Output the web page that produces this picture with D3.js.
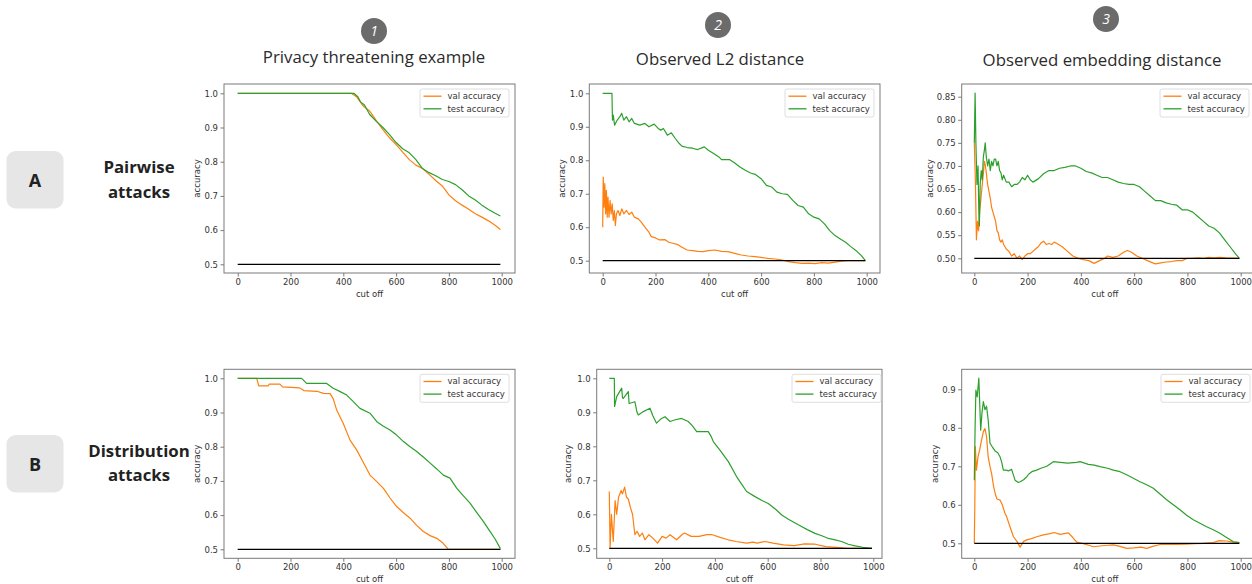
<!DOCTYPE html>
<html>
<head>
<meta charset="utf-8">
<script src="https://cdnjs.cloudflare.com/ajax/libs/d3/7.8.5/d3.min.js"></script>
<style>
body { margin: 0; background: #fff; }
.tick text, .axis-label, .legend text { font-family: "DejaVu Sans", sans-serif; font-size: 8.5px; fill: #333; }
</style>
</head>
<body>
<div id="chart"></div>
<script>
var width = 1252,
    height = 584;

// column headers and row labels
var columnTitles = ["Privacy threatening example", "Observed L2 distance", "Observed embedding distance"];
var columnNumbers = ["1", "2", "3"];
var rowLetters = ["A", "B"];
var rowNames = [["Pairwise", "attacks"], ["Distribution", "attacks"]];
var seriesNames = ["val accuracy", "test accuracy"];
var seriesColors = ["#ff7f0e", "#2ca02c"];
var baseline = 0.5;

var xTicks = [0, 200, 400, 600, 800, 1000];
var yTicksTenths = [0.5, 0.6, 0.7, 0.8, 0.9, 1.0];
var yTicksEmbA = [0.50, 0.55, 0.60, 0.65, 0.70, 0.75, 0.80, 0.85];
var yTicksEmbB = [0.5, 0.6, 0.7, 0.8, 0.9];

// A1 pairwise / privacy threatening example  [cut off, accuracy]
var pairPrivVal = [[0,1.0],[350,1.0],[430,1.0],[450,0.99],[475,0.963],[500,0.948],[525,0.92],[550,0.894],[575,0.87],[600,0.85],[625,0.828],[650,0.806],[675,0.79],[700,0.78],[725,0.763],[750,0.745],[775,0.729],[800,0.703],[825,0.686],[850,0.673],[875,0.661],[900,0.648],[925,0.638],[950,0.627],[975,0.614],[995,0.602]];
var pairPrivTest = [[0,1.0],[440,1.0],[455,0.99],[465,0.975],[480,0.966],[500,0.938],[525,0.918],[550,0.9],[575,0.879],[600,0.856],[625,0.838],[650,0.826],[675,0.806],[700,0.78],[725,0.768],[750,0.759],[775,0.748],[800,0.742],[825,0.733],[850,0.718],[875,0.7],[900,0.688],[925,0.673],[950,0.66],[975,0.649],[995,0.641]];

// A2 pairwise / L2
var pairL2Val = [[0,0.60],[2,0.75],[5,0.66],[8,0.73],[11,0.64],[14,0.71],[17,0.63],[20,0.69],[24,0.63],[28,0.68],[32,0.64],[36,0.67],[40,0.62],[44,0.65],[48,0.605],[52,0.64],[58,0.65],[65,0.635],[72,0.655],[80,0.64],[90,0.65],[100,0.638],[110,0.645],[120,0.63],[135,0.625],[146,0.615],[160,0.6],[175,0.585],[184,0.572],[200,0.568],[215,0.562],[235,0.563],[250,0.555],[265,0.552],[285,0.548],[300,0.54],[320,0.532],[340,0.53],[360,0.528],[380,0.527],[400,0.53],[425,0.532],[450,0.528],[475,0.527],[500,0.522],[525,0.517],[550,0.514],[577,0.512],[600,0.51],[625,0.507],[653,0.505],[680,0.502],[703,0.497],[730,0.494],[754,0.492],[780,0.493],[804,0.491],[830,0.494],[855,0.493],[880,0.496],[905,0.499],[930,0.5],[956,0.5],[995,0.5]];
var pairL2Test = [[0,1.0],[35,1.0],[37,0.92],[40,0.935],[45,0.905],[55,0.92],[65,0.93],[72,0.94],[80,0.92],[90,0.93],[100,0.915],[110,0.925],[120,0.91],[140,0.905],[160,0.91],[175,0.9],[195,0.908],[210,0.895],[220,0.89],[230,0.895],[245,0.875],[260,0.882],[275,0.865],[290,0.85],[300,0.842],[320,0.838],[340,0.836],[360,0.832],[385,0.84],[400,0.83],[420,0.82],[440,0.81],[450,0.802],[480,0.802],[500,0.792],[520,0.78],[540,0.77],[560,0.762],[580,0.757],[600,0.745],[620,0.725],[640,0.72],[660,0.705],[680,0.7],[700,0.698],[720,0.68],[740,0.665],[760,0.66],[780,0.64],[800,0.63],[820,0.625],[840,0.61],[860,0.59],[880,0.575],[900,0.565],[920,0.555],[940,0.542],[960,0.53],[980,0.515],[995,0.5]];

// A3 pairwise / embedding
var pairEmbVal = [[0,0.75],[4,0.67],[8,0.54],[12,0.58],[16,0.56],[20,0.6],[25,0.63],[30,0.66],[35,0.69],[38,0.71],[42,0.70],[46,0.68],[50,0.66],[55,0.645],[60,0.63],[65,0.61],[70,0.6],[75,0.59],[80,0.58],[85,0.56],[90,0.555],[95,0.54],[100,0.535],[105,0.54],[110,0.53],[120,0.52],[130,0.515],[140,0.505],[150,0.51],[160,0.5],[170,0.505],[180,0.497],[190,0.505],[200,0.51],[210,0.51],[220,0.515],[230,0.52],[240,0.525],[250,0.533],[260,0.537],[270,0.53],[280,0.532],[290,0.53],[300,0.535],[310,0.532],[330,0.525],[350,0.515],[370,0.505],[390,0.5],[410,0.497],[430,0.495],[450,0.489],[470,0.495],[490,0.5],[500,0.505],[520,0.502],[540,0.505],[560,0.513],[575,0.517],[590,0.513],[610,0.505],[630,0.5],[650,0.495],[670,0.49],[680,0.488],[700,0.49],[720,0.492],[740,0.493],[760,0.495],[780,0.495],[800,0.5],[820,0.5],[840,0.501],[860,0.5],[880,0.502],[900,0.501],[920,0.502],[945,0.501],[995,0.5]];
var pairEmbTest = [[0,0.75],[3,0.858],[6,0.75],[10,0.66],[14,0.70],[17,0.60],[19,0.57],[22,0.66],[26,0.69],[30,0.67],[34,0.72],[38,0.735],[41,0.75],[45,0.72],[50,0.70],[55,0.715],[60,0.69],[65,0.71],[70,0.70],[75,0.715],[80,0.715],[85,0.70],[90,0.71],[95,0.69],[100,0.685],[105,0.67],[110,0.68],[120,0.665],[130,0.665],[140,0.655],[150,0.66],[160,0.66],[170,0.665],[180,0.675],[190,0.67],[200,0.68],[210,0.67],[220,0.665],[240,0.672],[260,0.683],[280,0.69],[300,0.69],[320,0.695],[340,0.697],[360,0.70],[380,0.70],[400,0.695],[420,0.688],[440,0.685],[460,0.68],[480,0.675],[500,0.675],[520,0.67],[540,0.665],[560,0.662],[580,0.66],[600,0.66],[620,0.655],[640,0.645],[660,0.635],[680,0.625],[700,0.625],[720,0.62],[740,0.617],[760,0.615],[780,0.605],[800,0.605],[820,0.6],[840,0.59],[860,0.58],[880,0.57],[900,0.565],[920,0.555],[940,0.54],[960,0.525],[980,0.51],[995,0.5]];

// B1 distribution / privacy threatening example
var distPrivVal = [[0,1.0],[72,1.0],[80,0.978],[115,0.978],[120,0.983],[160,0.983],[170,0.975],[235,0.972],[250,0.964],[300,0.962],[325,0.956],[350,0.955],[362,0.94],[375,0.907],[400,0.868],[425,0.82],[451,0.79],[475,0.755],[501,0.717],[527,0.698],[552,0.678],[577,0.65],[602,0.625],[628,0.607],[653,0.591],[678,0.57],[703,0.552],[729,0.54],[754,0.532],[775,0.52],[798,0.5],[995,0.5]];
var distPrivTest = [[0,1.0],[242,1.0],[261,0.985],[337,0.985],[362,0.971],[388,0.961],[413,0.951],[438,0.932],[463,0.912],[501,0.898],[527,0.873],[552,0.86],[577,0.849],[602,0.834],[628,0.815],[653,0.8],[678,0.786],[703,0.77],[729,0.752],[754,0.735],[779,0.717],[804,0.708],[830,0.678],[855,0.656],[880,0.635],[905,0.608],[931,0.581],[955,0.553],[975,0.53],[995,0.502]];

// B2 distribution / L2
var distL2Val = [[0,0.667],[3,0.5],[8,0.6],[15,0.52],[22,0.64],[28,0.6],[35,0.65],[45,0.67],[50,0.66],[58,0.68],[65,0.65],[72,0.645],[80,0.62],[88,0.6],[97,0.54],[105,0.55],[115,0.535],[125,0.545],[135,0.525],[150,0.54],[165,0.53],[183,0.515],[200,0.535],[215,0.53],[230,0.54],[255,0.525],[275,0.54],[285,0.545],[310,0.535],[340,0.535],[370,0.54],[390,0.54],[420,0.532],[450,0.525],[480,0.52],[520,0.515],[545,0.518],[560,0.515],[590,0.52],[620,0.515],[660,0.51],[700,0.508],[740,0.513],[780,0.512],[820,0.505],[860,0.503],[900,0.5],[995,0.5]];
var distL2Test = [[0,1.0],[19,1.0],[20,0.917],[28,0.946],[47,0.971],[50,0.942],[53,0.941],[72,0.961],[75,0.926],[97,0.931],[105,0.9],[110,0.892],[129,0.902],[154,0.912],[165,0.89],[179,0.868],[195,0.88],[211,0.887],[230,0.873],[250,0.878],[274,0.882],[299,0.873],[315,0.86],[331,0.843],[375,0.843],[385,0.83],[394,0.814],[419,0.789],[451,0.755],[482,0.711],[500,0.69],[520,0.667],[552,0.652],[580,0.64],[602,0.632],[630,0.615],[653,0.598],[680,0.585],[716,0.569],[750,0.555],[779,0.544],[805,0.537],[830,0.529],[855,0.525],[880,0.52],[905,0.512],[931,0.507],[960,0.503],[995,0.5]];

// B3 distribution / embedding
var distEmbVal = [[0,0.5],[2,0.6],[4,0.751],[8,0.69],[14,0.725],[20,0.742],[26,0.764],[34,0.79],[40,0.798],[46,0.777],[52,0.725],[59,0.699],[65,0.681],[72,0.65],[78,0.63],[85,0.615],[97,0.612],[105,0.6],[115,0.578],[121,0.57],[134,0.543],[147,0.517],[160,0.505],[172,0.49],[185,0.505],[197,0.509],[215,0.512],[234,0.517],[260,0.522],[284,0.525],[300,0.528],[322,0.523],[353,0.527],[370,0.515],[384,0.503],[409,0.499],[430,0.495],[447,0.491],[470,0.493],[500,0.495],[522,0.496],[547,0.492],[572,0.487],[600,0.488],[625,0.49],[647,0.487],[670,0.492],[697,0.497],[730,0.498],[760,0.497],[797,0.498],[830,0.499],[860,0.5],[897,0.502],[920,0.507],[947,0.506],[970,0.503],[995,0.502]];
var distEmbTest = [[0,0.664],[3,0.8],[6,0.898],[11,0.88],[17,0.929],[21,0.85],[24,0.794],[29,0.84],[34,0.868],[40,0.847],[46,0.856],[52,0.821],[59,0.76],[68,0.75],[78,0.74],[88,0.735],[97,0.724],[103,0.71],[109,0.69],[120,0.69],[128,0.688],[140,0.692],[153,0.664],[165,0.658],[172,0.66],[185,0.665],[197,0.673],[205,0.68],[216,0.686],[234,0.69],[250,0.695],[272,0.70],[297,0.712],[322,0.71],[350,0.708],[384,0.71],[397,0.712],[428,0.705],[450,0.703],[472,0.699],[500,0.695],[522,0.69],[547,0.686],[572,0.678],[597,0.669],[622,0.66],[647,0.652],[672,0.643],[697,0.628],[722,0.613],[747,0.6],[772,0.587],[797,0.573],[822,0.561],[847,0.552],[872,0.543],[897,0.535],[922,0.526],[947,0.515],[973,0.504],[995,0.502]];

// panel layout: frame = [left, top, right, bottom], x/y anchors map two data values to pixels
var panels = [
  {frame:[224,84,515,273], xa:[0,237.7], xb:[1000,501.7], ya:[1.0,93.3], yb:[0.5,264.3], yTicks:yTicksTenths, fmt:".1f", legendRight:509, ylabX:197, val:pairPrivVal, test:pairPrivTest},
  {frame:[589.3,84,880,273], xa:[0,602.7], xb:[1000,866.7], ya:[1.0,93.3], yb:[0.5,260.7], yTicks:yTicksTenths, fmt:".1f", legendRight:874, ylabX:562, val:pairL2Val, test:pairL2Test},
  {frame:[961.7,84,1254,273], xa:[0,974.3], xb:[1000,1240.7], ya:[0.85,96.7], yb:[0.5,258.3], yTicks:yTicksEmbA, fmt:".2f", legendRight:1249, ylabX:930, val:pairEmbVal, test:pairEmbTest},
  {frame:[224,369.3,515,558.3], xa:[0,237.7], xb:[1000,501.7], ya:[1.0,378.3], yb:[0.5,549.3], yTicks:yTicksTenths, fmt:".1f", legendRight:509, ylabX:197, val:distPrivVal, test:distPrivTest},
  {frame:[596.7,369.3,882,558.3], xa:[0,609.3], xb:[1000,873.3], ya:[1.0,378.3], yb:[0.5,548.3], yTicks:yTicksTenths, fmt:".1f", legendRight:881, ylabX:568.5, val:distL2Val, test:distL2Test},
  {frame:[961.7,369.3,1254,558.3], xa:[0,974.3], xb:[1000,1240.7], ya:[0.9,389.3], yb:[0.5,543.3], yTicks:yTicksEmbB, fmt:".1f", legendRight:1250, ylabX:935, val:distEmbVal, test:distEmbTest}
];

var headerPos = [
  {cx:374, cy:31, tx:374, ty:63},
  {cx:718, cy:25, tx:720, ty:64.5},
  {cx:1106, cy:19, tx:1102, ty:65.5}
];
var rowPos = [
  {boxY:151, letterY:180, nameY:[166.5, 191.5]},
  {boxY:435, letterY:464, nameY:[451, 474.5]}
];

var svg = d3.select("#chart")
  .append("svg")
  .attr("width", width)
  .attr("height", height);

// headers
var headers = svg.selectAll(".header")
  .data(columnTitles)
  .enter().append("g")
  .attr("class", "header");

headers.append("circle")
  .attr("cx", function(d, i) { return headerPos[i].cx; })
  .attr("cy", function(d, i) { return headerPos[i].cy; })
  .attr("r", 13)
  .attr("fill", "#6b6b6b");

headers.append("text")
  .attr("x", function(d, i) { return headerPos[i].cx; })
  .attr("y", function(d, i) { return headerPos[i].cy + 5; })
  .attr("text-anchor", "middle")
  .style("font-family", "'Open Sans', sans-serif")
  .style("font-style", "italic")
  .style("font-size", "14px")
  .style("fill", "#fff")
  .text(function(d, i) { return columnNumbers[i]; });

headers.append("text")
  .attr("x", function(d, i) { return headerPos[i].tx; })
  .attr("y", function(d, i) { return headerPos[i].ty; })
  .attr("text-anchor", "middle")
  .style("font-family", "'Open Sans', sans-serif")
  .style("font-size", "16.8px")
  .style("fill", "#2b2b2b")
  .text(function(d) { return d; });

// row labels
var rows = svg.selectAll(".rowlabel")
  .data(rowLetters)
  .enter().append("g")
  .attr("class", "rowlabel");

rows.append("rect")
  .attr("x", 6.5)
  .attr("y", function(d, i) { return rowPos[i].boxY; })
  .attr("width", 57)
  .attr("height", 57.5)
  .attr("rx", 9)
  .attr("fill", "#e6e6e6");

rows.append("text")
  .attr("x", 35)
  .attr("y", function(d, i) { return rowPos[i].letterY + 6.5; })
  .attr("text-anchor", "middle")
  .style("font-family", "'Open Sans', sans-serif")
  .style("font-weight", "bold")
  .style("font-size", "18px")
  .style("fill", "#222")
  .text(function(d) { return d; });

rows.each(function(d, i) {
  d3.select(this).selectAll(".name")
    .data(rowNames[i])
    .enter().append("text")
    .attr("x", 139)
    .attr("y", function(n, j) { return rowPos[i].nameY[j] + 6; })
    .attr("text-anchor", "middle")
    .style("font-family", "'Open Sans', sans-serif")
    .style("font-weight", "bold")
    .style("font-size", "16.8px")
    .style("fill", "#222")
    .text(function(n) { return n; });
});

// panels
var line = d3.line();

panels.forEach(function(p, k) {
  var f = p.frame;
  var x = d3.scaleLinear().domain([p.xa[0], p.xb[0]]).range([p.xa[1], p.xb[1]]);
  var y = d3.scaleLinear().domain([p.ya[0], p.yb[0]]).range([p.ya[1], p.yb[1]]);
  line.x(function(d) { return x(d[0]); }).y(function(d) { return y(d[1]); });

  var g = svg.append("g").attr("class", "panel");

  g.append("clipPath")
    .attr("id", "clip" + k)
    .append("rect")
    .attr("x", f[0]).attr("y", f[1])
    .attr("width", f[2] - f[0]).attr("height", f[3] - f[1]);

  var plot = g.append("g").attr("clip-path", "url(#clip" + k + ")");

  [p.val, p.test].forEach(function(series, s) {
    plot.append("path")
      .datum(series)
      .attr("fill", "none")
      .attr("stroke", seriesColors[s])
      .attr("stroke-width", 1.2)
      .attr("stroke-linejoin", "round")
      .attr("d", line);
  });

  plot.append("path")
    .datum([[0, baseline], [995, baseline]])
    .attr("fill", "none")
    .attr("stroke", "#000")
    .attr("stroke-width", 1.3)
    .attr("d", line);

  g.append("rect")
    .attr("x", f[0]).attr("y", f[1])
    .attr("width", f[2] - f[0]).attr("height", f[3] - f[1])
    .attr("fill", "none")
    .attr("stroke", "#7a7a7a")
    .attr("stroke-width", 1);

  var xAxis = g.append("g")
    .attr("transform", "translate(0," + f[3] + ")")
    .call(d3.axisBottom(x).tickValues(xTicks).tickSize(3.5).tickPadding(2.5).tickFormat(d3.format("d")));
  xAxis.select(".domain").remove();
  xAxis.selectAll(".tick line").attr("stroke", "#7a7a7a");

  var yAxis = g.append("g")
    .attr("transform", "translate(" + f[0] + ",0)")
    .call(d3.axisLeft(y).tickValues(p.yTicks).tickSize(3.5).tickPadding(2.5).tickFormat(d3.format(p.fmt)));
  yAxis.select(".domain").remove();
  yAxis.selectAll(".tick line").attr("stroke", "#7a7a7a");

  g.append("text")
    .attr("class", "axis-label")
    .attr("x", (f[0] + f[2]) / 2 - (k % 3 == 2 ? 3 : 0))
    .attr("y", f[3] + 24)
    .attr("text-anchor", "middle")
    .text("cut off");

  g.append("text")
    .attr("class", "axis-label")
    .attr("transform", "translate(" + p.ylabX + "," + ((f[1] + f[3]) / 2) + ") rotate(-90)")
    .attr("dy", "0.35em")
    .attr("text-anchor", "middle")
    .text("accuracy");

  // legend
  var lw = 89, lh = 28;
  var legend = g.append("g")
    .attr("class", "legend")
    .attr("transform", "translate(" + (p.legendRight - lw) + "," + (f[1] + 5) + ")");

  legend.append("rect")
    .attr("width", lw).attr("height", lh)
    .attr("rx", 2)
    .attr("fill", "#fff").attr("fill-opacity", 0.8)
    .attr("stroke", "#d5d5d5").attr("stroke-width", 0.8);

  var items = legend.selectAll(".item")
    .data(seriesNames)
    .enter().append("g")
    .attr("class", "item")
    .attr("transform", function(d, i) { return "translate(0," + (7.2 + i * 12.6) + ")"; });

  items.append("line")
    .attr("x1", 3.5).attr("x2", 21.5)
    .attr("stroke", function(d, i) { return seriesColors[i]; })
    .attr("stroke-width", 1.3);

  items.append("text")
    .attr("x", 27.5)
    .attr("dy", "0.33em")
    .text(function(d) { return d; });
});
</script>
</body>
</html>
